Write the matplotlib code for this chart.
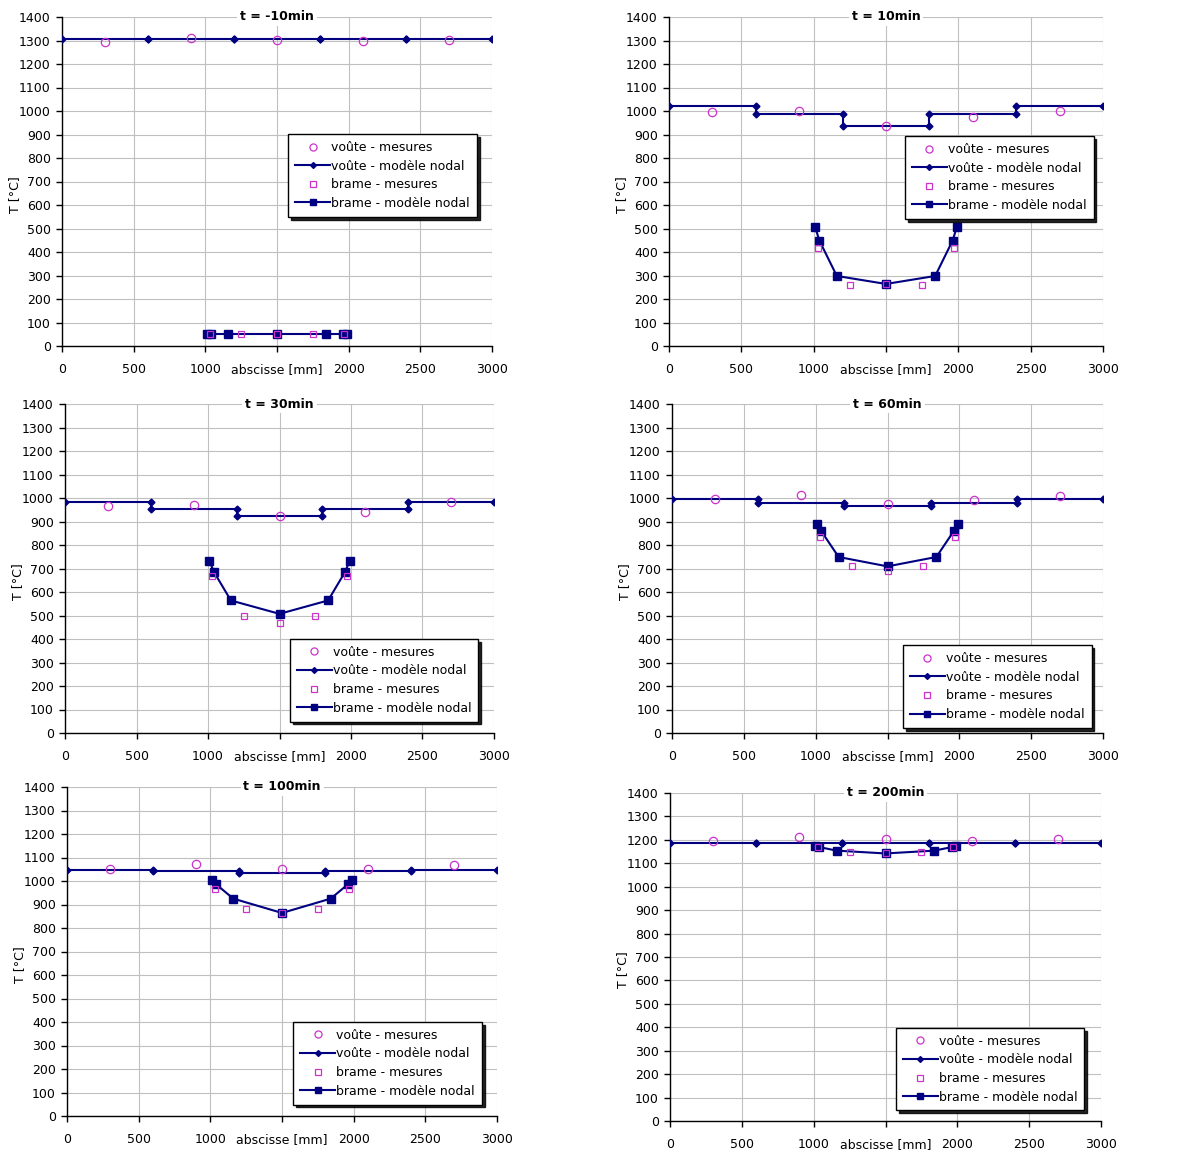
#!/usr/bin/env python3
"""Temperature profiles (voute / brame) along the furnace width, six instants."""

import matplotlib
matplotlib.use('Agg')
import matplotlib.pyplot as plt

# instants shown, one panel each
times = ['-10', '10', '30', '60', '100', '200']

# abscissae [mm]
voute_zone_edges = [0, 600, 1200, 1800, 2400, 3000]
voute_meas_x = [300, 900, 1500, 2100, 2700]
brame_model_x = [1010, 1040, 1160, 1500, 1840, 1960, 1990]
brame_meas_x = [1030, 1250, 1500, 1750, 1970]

# x tick labels (1500 is left blank, the axis title sits there)
x_ticks = [0, 500, 1000, 1500, 2000, 2500, 3000]
x_tick_labels = ['0', '500', '1000', '', '2000', '2500', '3000']

# voute - modele nodal: one constant value per zone
voute_model = [
    [1305, 1305, 1305, 1305, 1305],
    [1020, 986, 937, 986, 1020],
    [981, 955, 922, 955, 981],
    [997, 980, 965, 980, 997],
    [1048, 1043, 1033, 1043, 1048],
    [1185, 1185, 1185, 1185, 1185],
]

# voute - mesures
voute_meas = [
    [1294, 1311, 1304, 1298, 1301],
    [995, 1000, 937, 975, 1000],
    [964, 971, 924, 942, 981],
    [996, 1013, 976, 993, 1007],
    [1053, 1073, 1050, 1053, 1068],
    [1195, 1212, 1202, 1195, 1205],
]

# brame - modele nodal
brame_model = [
    [50, 50, 50, 50, 50, 50, 50],
    [506, 448, 298, 264, 298, 448, 506],
    [733, 687, 564, 507, 564, 687, 733],
    [888, 858, 749, 709, 749, 858, 888],
    [1003, 986, 925, 864, 925, 986, 1003],
    [1172, 1169, 1154, 1142, 1154, 1169, 1172],
]

# brame - mesures
brame_meas = [
    [50, 50, 50, 50, 50],
    [419, 259, 265, 259, 419],
    [666, 496, 470, 496, 666],
    [833, 709, 688, 709, 833],
    [965, 879, 864, 879, 965],
    [1170, 1149, 1142, 1149, 1170],
]

# axes boxes in pixels (left, right, top, bottom) and legend anchors (axes fraction)
W, H = 1188, 1153
boxes = [
    (62, 492, 17, 346), (669, 1103, 17, 346),
    (65, 494, 404, 733), (672, 1103, 404, 733),
    (67, 497, 787, 1116), (670, 1101, 793, 1121),
]
legend_anchor = [
    (0.526, 0.644), (0.544, 0.638),
    (0.524, 0.286), (0.536, 0.267),
    (0.526, 0.286), (0.524, 0.284),
]

NAVY = '#000080'
PINK = '#cc33cc'
GRID = '#c0c0c0'

plt.rcParams['font.family'] = ['DejaVu Sans']
plt.rcParams['font.size'] = 8.5

fig = plt.figure(figsize=(W / 100, H / 100), dpi=100)

for i, t in enumerate(times):
    l, r, tp, b = boxes[i]
    ax = fig.add_axes([l / W, 1 - b / H, (r - l) / W, (b - tp) / H])

    # step profile of the voute model
    vx, vy = [], []
    for k, val in enumerate(voute_model[i]):
        vx += [voute_zone_edges[k], voute_zone_edges[k + 1]]
        vy += [val, val]

    ax.plot(voute_meas_x, voute_meas[i], linestyle='none', marker='o', ms=6,
            mfc='none', mec=PINK, mew=0.9, label='voûte - mesures', zorder=4)
    ax.plot(vx, vy, color=NAVY, lw=1.5, marker='D', ms=3.5, mfc=NAVY, mec=NAVY,
            label='voûte - modèle nodal', zorder=3)
    ax.plot(brame_meas_x, brame_meas[i], linestyle='none', marker='s', ms=4.5,
            mfc='none', mec=PINK, mew=0.9, label='brame - mesures', zorder=4)
    ax.plot(brame_model_x, brame_model[i], color=NAVY, lw=1.5, marker='s', ms=5.5,
            mfc=NAVY, mec=NAVY, label='brame - modèle nodal', zorder=3)

    ax.set_xlim(0, 3000)
    ax.set_ylim(0, 1400)
    ax.set_xticks(x_ticks)
    ax.set_xticklabels(x_tick_labels)
    ax.set_yticks(range(0, 1401, 100))
    ax.grid(True, color=GRID, lw=0.8)
    ax.set_axisbelow(True)
    for side in ('top', 'right'):
        ax.spines[side].set_visible(False)
    for side in ('left', 'bottom'):
        ax.spines[side].set_color('black')
        ax.spines[side].set_linewidth(1.0)
    ax.tick_params(direction='out', length=4, width=1, pad=4, labelsize=9)
    ax.tick_params(axis='x', pad=8)

    ax.set_ylabel('T [°C]', fontsize=9)
    ax.yaxis.set_label_coords(-0.095, 0.46)
    ax.annotate('abscisse [mm]', xy=(1500, 0), xycoords=('data', 'axes fraction'),
                xytext=(0, -17), textcoords='offset points', ha='center', va='center',
                fontsize=9)

    ax.text(0.5, 1.0, f't = {t}min', transform=ax.transAxes, ha='center', va='center',
            fontweight='bold', fontsize=9,
            bbox=dict(facecolor='white', edgecolor='none', pad=2))

    leg = ax.legend(loc='upper left', bbox_to_anchor=legend_anchor[i], frameon=True,
                    fancybox=False, edgecolor='black', framealpha=1,
                    shadow={'color': 'black', 'alpha': 0.85}, handlelength=2.8,
                    handletextpad=0.1, labelspacing=0.45, borderpad=0.55,
                    borderaxespad=0, fontsize=9, markerscale=0.85)
    leg.get_frame().set_linewidth(1.0)

fig.savefig('out.png', dpi=100)
